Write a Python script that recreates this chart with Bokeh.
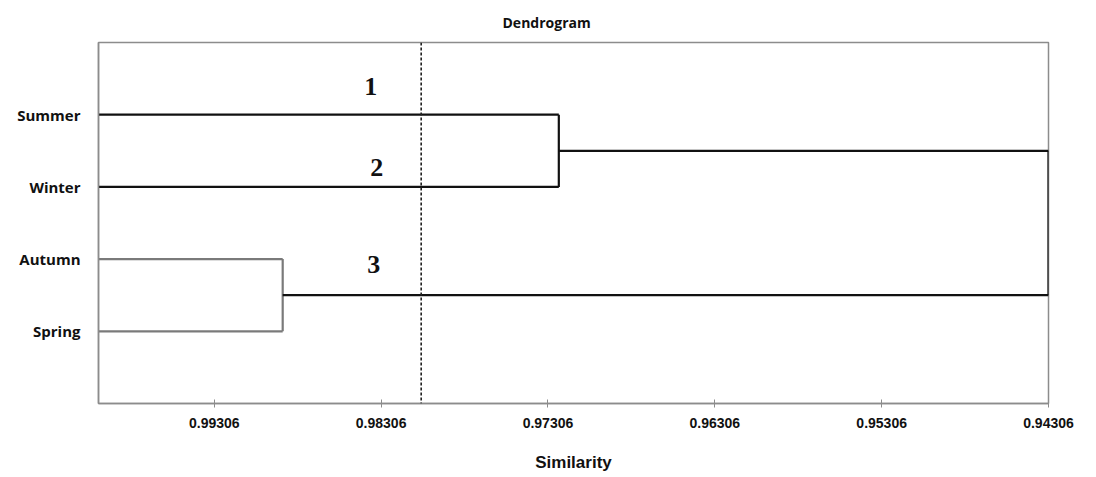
from bokeh.plotting import figure
from bokeh.models import Range1d, FixedTicker, PrintfTickFormatter, Span, ColumnDataSource
from bokeh.core.properties import value
from bokeh.embed import file_html
from bokeh.resources import INLINE

# ---- data ----
leaves = ["Summer", "Winter", "Autumn", "Spring"]
leaf_start = 1.0
cluster_members = [["Summer", "Winter"], ["Autumn", "Spring"]]
cluster_sim = [0.97241, 0.98896]
cluster_colors = ["#111111", "#7a7a7a"]
root_sim = 0.94306
cut_sim = 0.98066
tick_values = [0.99306, 0.98306, 0.97306, 0.96306, 0.95306, 0.94306]
group_labels = ["1", "2", "3"]
group_label_x = [0.98368, 0.98332, 0.9835]
group_label_y = [0.61, 1.73, 3.07]

ypos = {name: i + 1 for i, name in enumerate(leaves)}

p = figure(width=1096, height=477, output_backend="svg", toolbar_location=None,
           x_range=Range1d(1.0, 0.94306), y_range=Range1d(5, 0),
           min_border_left=98, min_border_right=48, min_border_top=42, min_border_bottom=74)
p.background_fill_color = "white"
p.border_fill_color = "white"
p.xgrid.visible = False
p.ygrid.visible = False
p.outline_line_color = "#8c8c8c"
p.outline_line_width = 1.5

# title
p.title.text = "Dendrogram"
p.title.align = "left"
p.title.offset = 404
p.title.standoff = 21
p.title.text_font = "Open Sans"
p.title.text_font_style = "bold"
p.title.text_font_size = "14px"
p.title.text_color = "#111111"

# ---- dendrogram segments ----
x0s, y0s, x1s, y1s, cols = [], [], [], [], []
mids = []
for members, sim, col in zip(cluster_members, cluster_sim, cluster_colors):
    ys = [ypos[m] for m in members]
    for y in ys:
        x0s.append(leaf_start); y0s.append(y); x1s.append(sim); y1s.append(y); cols.append(col)
    x0s.append(sim); y0s.append(min(ys)); x1s.append(sim); y1s.append(max(ys)); cols.append(col)
    mids.append(sum(ys) / len(ys))
for sim, mid in zip(cluster_sim, mids):
    x0s.append(sim); y0s.append(mid); x1s.append(root_sim); y1s.append(mid); cols.append("#111111")
x0s.append(root_sim); y0s.append(min(mids)); x1s.append(root_sim); y1s.append(max(mids)); cols.append("#111111")

src = ColumnDataSource(dict(x0=x0s, y0=y0s, x1=x1s, y1=y1s, c=cols))
p.segment("x0", "y0", "x1", "y1", source=src, line_color="c", line_width=2.2)

# cut line
p.add_layout(Span(location=cut_sim, dimension="height", line_color="#222222",
                  line_dash="3 2", line_width=1.6))

# group labels
p.text(x=group_label_x, y=group_label_y, text=group_labels,
       text_font=value("Liberation Serif"), text_font_style="bold",
       text_font_size="26px", text_align="center", text_baseline="middle",
       text_color="#111111")

# ---- axes ----
xa = p.xaxis[0]
xa.ticker = FixedTicker(ticks=tick_values)
xa.formatter = PrintfTickFormatter(format="%.5f")
xa.axis_line_color = "#8c8c8c"
xa.axis_line_width = 1.5
xa.major_tick_line_color = "#8c8c8c"
xa.major_tick_in = 4
xa.major_tick_out = 4
xa.minor_tick_line_color = None
xa.major_label_standoff = 10
xa.major_label_text_font = "Liberation Sans"
xa.major_label_text_font_style = "bold"
xa.major_label_text_font_size = "14px"
xa.major_label_text_color = "#111111"
xa.axis_label = "Similarity"
xa.axis_label_standoff = 22
xa.axis_label_text_font = "Liberation Sans"
xa.axis_label_text_font_style = "bold"
xa.axis_label_text_font_size = "17px"
xa.axis_label_text_color = "#111111"

ya = p.yaxis[0]
ya.ticker = FixedTicker(ticks=[ypos[n] for n in leaves])
ya.major_label_overrides = {ypos[n]: n for n in leaves}
ya.axis_line_color = "#8c8c8c"
ya.axis_line_width = 1.5
ya.major_tick_line_color = None
ya.minor_tick_line_color = None
ya.major_tick_in = 0
ya.major_tick_out = 0
ya.major_label_standoff = 18
ya.major_label_text_font = "Open Sans"
ya.major_label_text_font_style = "bold"
ya.major_label_text_font_size = "15px"
ya.major_label_text_color = "#111111"

open("out.html", "w").write(file_html(p, INLINE))
